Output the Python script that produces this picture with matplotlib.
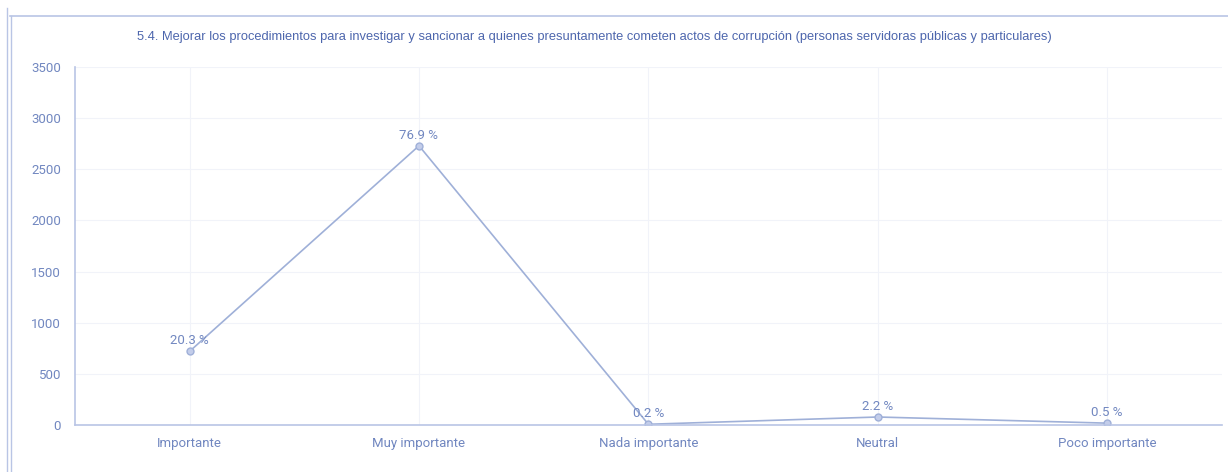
import matplotlib.pyplot as plt
from matplotlib.lines import Line2D

# Datos
categorias = ["Importante", "Muy importante", "Nada importante", "Neutral", "Poco importante"]
valores = [720, 2730, 7, 78, 18]
etiquetas = ["20.3 %", "76.9 %", "0.2 %", "2.2 %", "0.5 %"]
titulo = ("5.4. Mejorar los procedimientos para investigar y sancionar a quienes presuntamente "
          "cometen actos de corrupción (personas servidoras públicas y particulares)")

color_linea = "#9fb0d8"
color_texto = "#7187c0"
color_eje = "#b9c5e5"
color_grid = "#f1f3f9"

fig = plt.figure(figsize=(12.28, 4.72), dpi=100)
ax = fig.add_axes([0.061, 0.0996, 0.934, 0.7584])

x = list(range(len(categorias)))
ax.plot(x, valores, color=color_linea, lw=1.2, marker="o", ms=5,
        mfc="#c3cdea", mec=color_linea, mew=1)

for xi, v, t in zip(x, valores, etiquetas):
    ax.annotate(t, (xi, v), xytext=(0, 3), textcoords="offset points",
                ha="center", va="bottom", fontsize=9.5, color=color_texto,
                family="Roboto")

ax.set_xlim(-0.5, len(categorias) - 0.5)
ax.set_ylim(0, 3500)
ax.set_yticks(range(0, 3501, 500))
ax.set_xticks(x)
ax.set_xticklabels(categorias)

ax.grid(True, color=color_grid, lw=0.8)
ax.set_axisbelow(True)
for s in ["top", "right"]:
    ax.spines[s].set_visible(False)
for s in ["left", "bottom"]:
    ax.spines[s].set_color(color_eje)
    ax.spines[s].set_linewidth(1.2)

ax.tick_params(length=0, pad=10, colors=color_texto, labelsize=9.5)
for lbl in ax.get_xticklabels() + ax.get_yticklabels():
    lbl.set_family("Roboto")
ax.tick_params(axis="x", pad=9)

fig.text(594 / 1228, 1 - 37 / 472, titulo, ha="center", va="center", fontsize=9.3,
         color="#4d66ad", family="Liberation Sans")

# marco
fig.add_artist(Line2D([10 / 1228, 1], [1 - 16 / 472] * 2, color=color_eje, lw=1.2,
                      transform=fig.transFigure))
fig.add_artist(Line2D([7 / 1228] * 2, [0, 1 - 8 / 472], color=color_eje, lw=1,
                      transform=fig.transFigure))
fig.add_artist(Line2D([11 / 1228] * 2, [0, 1 - 16 / 472], color=color_eje, lw=1,
                      transform=fig.transFigure))

fig.savefig("out.png", dpi=100)
